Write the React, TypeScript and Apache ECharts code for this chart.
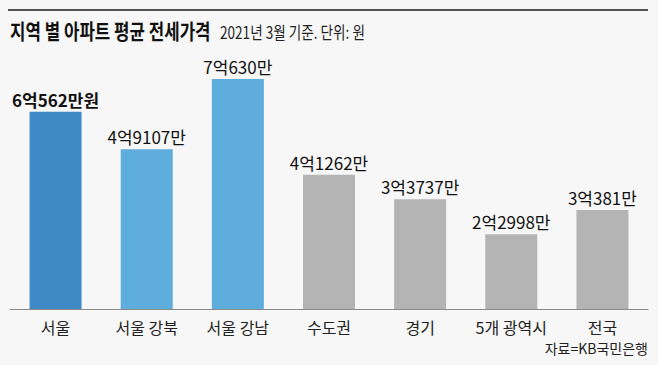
import React, { useEffect, useRef } from "react";
import * as echarts from "echarts";

const categories = ["서울", "서울 강북", "서울 강남", "수도권", "경기", "5개 광역시", "전국"];
const values = [60562, 49107, 70630, 41262, 33737, 22998, 30381]; // 만원
const barColors = ["#3f89c6", "#5eaddd", "#5eaddd", "#b4b4b4", "#b4b4b4", "#b4b4b4", "#b4b4b4"];
const titleText = "지역 별 아파트 평균 전세가격";
const subtitleText = "2021년 3월 기준. 단위: 원";
const sourceText = "자료=KB국민은행";

const FONT = "'Noto Sans CJK KR', 'Noto Sans', sans-serif";

function fmt(v: number, first: boolean) {
  const eok = Math.floor(v / 10000);
  const man = v % 10000;
  return `${eok}억${man}만${first ? "원" : ""}`;
}

export default function App() {
  const ref = useRef<HTMLDivElement>(null);
  useEffect(() => {
    if (!ref.current) return;
    const chart = echarts.init(ref.current, null, { renderer: "svg" });
    chart.setOption({
      animation: false,
      backgroundColor: "#f7f7f7",
      textStyle: { fontFamily: FONT },
      grid: { left: 10, right: 10, top: 48.6, bottom: 56 },
      xAxis: {
        type: "category",
        data: categories,
        axisLine: { show: true, lineStyle: { color: "#8a8a8a", width: 1 } },
        axisTick: { show: false },
        axisLabel: { color: "#222", fontSize: 16, margin: 9, lineHeight: 18, fontFamily: FONT, interval: 0 },
      },
      yAxis: {
        type: "value",
        min: 0,
        max: 80000,
        show: false,
        splitLine: { show: false },
      },
      series: [
        {
          type: "bar",
          barWidth: 52,
          data: values.map((v, i) => ({ value: v, itemStyle: { color: barColors[i] } })),
          label: {
            show: true,
            position: "top",
            distance: 4,
            formatter: (p: any) =>
              p.dataIndex === 0 ? `{b|${fmt(p.value, true)}}` : `{n|${fmt(p.value, false)}}`,
            rich: {
              b: { fontSize: 17, fontWeight: "bold", color: "#111", fontFamily: FONT },
              n: { fontSize: 17, color: "#111", fontFamily: FONT },
            },
          },
        },
      ],
      graphic: [
        {
          type: "line",
          shape: { x1: 8, y1: 10, x2: 648, y2: 10 },
          style: { stroke: "#555", lineWidth: 2 },
        },
        {
          type: "text",
          x: 10,
          y: 30,
          scaleX: 0.8,
          style: {
            text: titleText,
            fontSize: 21,
            fontWeight: "bold",
            fill: "#111",
            fontFamily: FONT,
            verticalAlign: "middle",
          },
        },
        {
          type: "text",
          x: 220,
          y: 31,
          scaleX: 0.8,
          style: {
            text: subtitleText,
            fontSize: 17,
            fill: "#222",
            fontFamily: FONT,
            verticalAlign: "middle",
          },
        },
        {
          type: "text",
          x: 648,
          y: 348,
          style: {
            text: sourceText,
            fontSize: 14,
            fill: "#222",
            fontFamily: FONT,
            align: "right",
            verticalAlign: "middle",
          },
        },
      ],
    });
    return () => chart.dispose();
  }, []);
  return <div ref={ref} style={{ width: 658, height: 365, position: "fixed", left: 0, top: 0 }} />;
}
